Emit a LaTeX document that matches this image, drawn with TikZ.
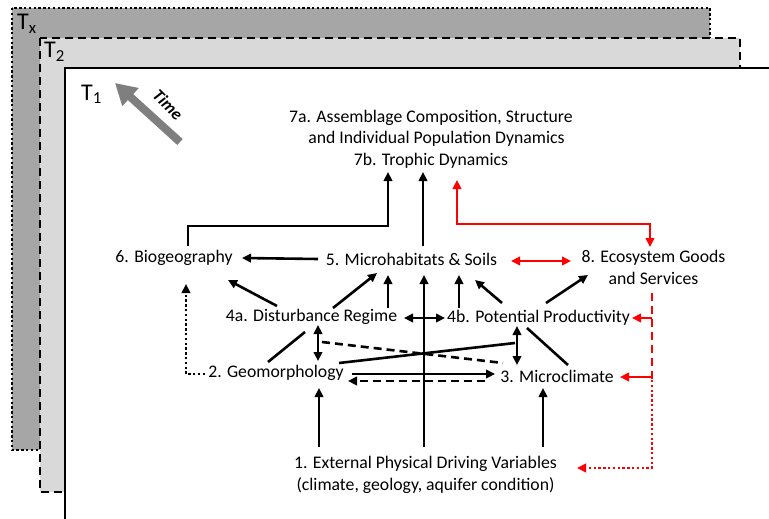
\documentclass[tikz,border=0pt]{standalone}
\usepackage{fontspec}
\setmainfont{Carlito}
\usetikzlibrary{arrows.meta}
\definecolor{txgray}{HTML}{A6A6A6}
\definecolor{ttgray}{HTML}{D9D9D9}
\definecolor{timegray}{HTML}{7F7F7F}
\begin{document}
\begin{tikzpicture}[x=1pt,y=-1pt,
  txt/.style={font=\fontsize{17.7}{21.5}\selectfont, inner sep=0pt, align=center},
  tlab/.style={font=\fontsize{24}{24}\selectfont, inner sep=0pt, anchor=base west},
  tip/.style={-{Triangle[length=9pt,width=8.5pt]}},
  dtip/.style={{Triangle[length=9pt,width=8.5pt]}-{Triangle[length=9pt,width=8.5pt]}},
  conn/.style={line width=2.6pt},
  rconn/.style={line width=2.6pt, red},
  dsh/.style={dash pattern=on 8pt off 5pt},
  dtt/.style={dash pattern=on 2.4pt off 2.4pt}]
\useasboundingbox (0,0) rectangle (769,519);
% time frames
\path[draw, fill=txgray, line width=2.6pt, dtt] (12,8) rectangle (710,450);
\path[draw, fill=ttgray, line width=2.8pt, dsh] (40,38) rectangle (740,492);
\fill[white] (65,68) rectangle (775,525);
\draw[line width=2pt] (65,525) -- (65,68) -- (775,68);
\node[tlab] (tx) at (17,30) {T\textsubscript{x}};
\node[tlab] (t2) at (44,58) {T\textsubscript{2}};
\node[tlab] (t1) at (81,100) {T\textsubscript{1}};
% time arrow
\draw[line width=8pt, timegray, -{Triangle[length=21pt,width=23pt]}] (180,142) -- (115,83);
\node[font=\fontsize{17}{17}\selectfont\bfseries\itshape, inner sep=0pt, rotate=-45] (time) at (168,105) {Time};
% nodes
\node[txt] (n7) at (431,139) {7a. Assemblage Composition, Structure\\\hspace*{11pt}and Individual Population Dynamics\\7b. Trophic Dynamics};
\node[txt] (n6) at (174,258) {6. Biogeography};
\node[txt] (n5) at (411.5,259) {5. Microhabitats \& Soils};
\node[txt] (n8) at (653.5,267.5) {8. Ecosystem Goods\\and Services};
\node[txt] (n4a) at (311.5,317) {4a. Disturbance Regime};
\node[txt] (n4b) at (538.5,318) {4b. Potential Productivity};
\node[txt] (n2) at (276,373) {2. Geomorphology};
\node[txt] (n3) at (557,376) {3. Microclimate};
\node[txt] (n1) at (425.5,475) {1. External Physical Driving Variables\\(climate, geology, aquifer condition)};
% black connectors
\draw[conn, tip] ([shift={(14,-12)}]n6.center) -- ++(0,-20) -| ([shift={(-43,33)}]n7.center);
\draw[conn, tip] ([shift={(11.5,-13)}]n5.center) -- ([shift={(-8,33)}]n7.center);
\draw[conn, tip] ([shift={(-93.5,0)}]n5.center) -- ([shift={(68,0)}]n6.center);
\draw[conn, tip] ([shift={(-34.5,-11)}]n4a.center) -- ([shift={(54,22)}]n6.center);
\draw[conn, tip] ([shift={(21.5,-9)}]n4a.center) -- ([shift={(-34.5,14)}]n5.center);
\draw[conn, tip] ([shift={(76.5,-9)}]n4a.center) -- ([shift={(-23.5,16)}]n5.center);
\draw[conn, dtip] ([shift={(92.5,1)}]n4a.center) -- ([shift={(-93.5,0)}]n4b.center);
\draw[conn, tip] ([shift={(-1.5,-28)}]n1.center) -- ([shift={(12.5,16)}]n5.center);
\draw[conn, tip] ([shift={(-79.5,-10)}]n4b.center) -- ([shift={(47.5,16)}]n5.center);
\draw[conn, tip] ([shift={(-36.5,-15)}]n4b.center) -- ([shift={(63.5,21)}]n5.center);
\draw[conn, tip] ([shift={(7.5,-15)}]n4b.center) -- ([shift={(-65.5,7.5)}]n8.center);
\draw[conn, dtip] ([shift={(6.5,8)}]n4a.center) -- ([shift={(42,-12)}]n2.center);
\draw[conn] ([shift={(-6.5,15)}]n4a.center) -- ([shift={(-8,-11)}]n2.center);
\draw[conn, dsh] ([shift={(10.5,25)}]n4a.center) -- ([shift={(-54,-13)}]n3.center);
\draw[conn] ([shift={(63,-10)}]n2.center) -- ([shift={(-23.5,25)}]n4b.center);
\draw[conn, dtip] ([shift={(-21.5,8)}]n4b.center) -- ([shift={(-40,-11)}]n3.center);
\draw[conn] ([shift={(-11.5,10)}]n4b.center) -- ([shift={(11,-11)}]n3.center);
\draw[conn, tip] ([shift={(76,1)}]n2.center) -- ([shift={(-62,-2)}]n3.center);
\draw[conn, tip, dsh] ([shift={(-72,5)}]n3.center) -- ([shift={(72,8)}]n2.center);
\draw[conn, tip] ([shift={(-106.5,-28)}]n1.center) -- ([shift={(43,15)}]n2.center);
\draw[conn, tip] ([shift={(117.5,-28)}]n1.center) -- ([shift={(-14,12)}]n3.center);
\draw[conn, tip, dtt] ([shift={(-71,1)}]n2.center) -| ([shift={(12,26)}]n6.center);
% red connectors
\draw[rconn, dtip] ([shift={(26,41)}]n7.center) -- ++(0,44) -| ([shift={(-3.5,-20.5)}]n8.center);
\draw[rconn, dtip] ([shift={(99.5,2)}]n5.center) -- ([shift={(-82.5,-6.5)}]n8.center);
\draw[rconn, dsh] ([shift={(-1.5,25.5)}]n8.center) -- ([shift={(-1.5,112.5)}]n8.center);
\draw[rconn, dtt, tip] ([shift={(-1.5,112.5)}]n8.center) |- ([shift={(151.5,-7)}]n1.center);
\draw[rconn, tip] ([shift={(-1.5,50.5)}]n8.center) -- ([shift={(93.5,0)}]n4b.center);
\draw[rconn, tip] ([shift={(-1.5,109.5)}]n8.center) -- ([shift={(63,1)}]n3.center);
\end{tikzpicture}
\end{document}
